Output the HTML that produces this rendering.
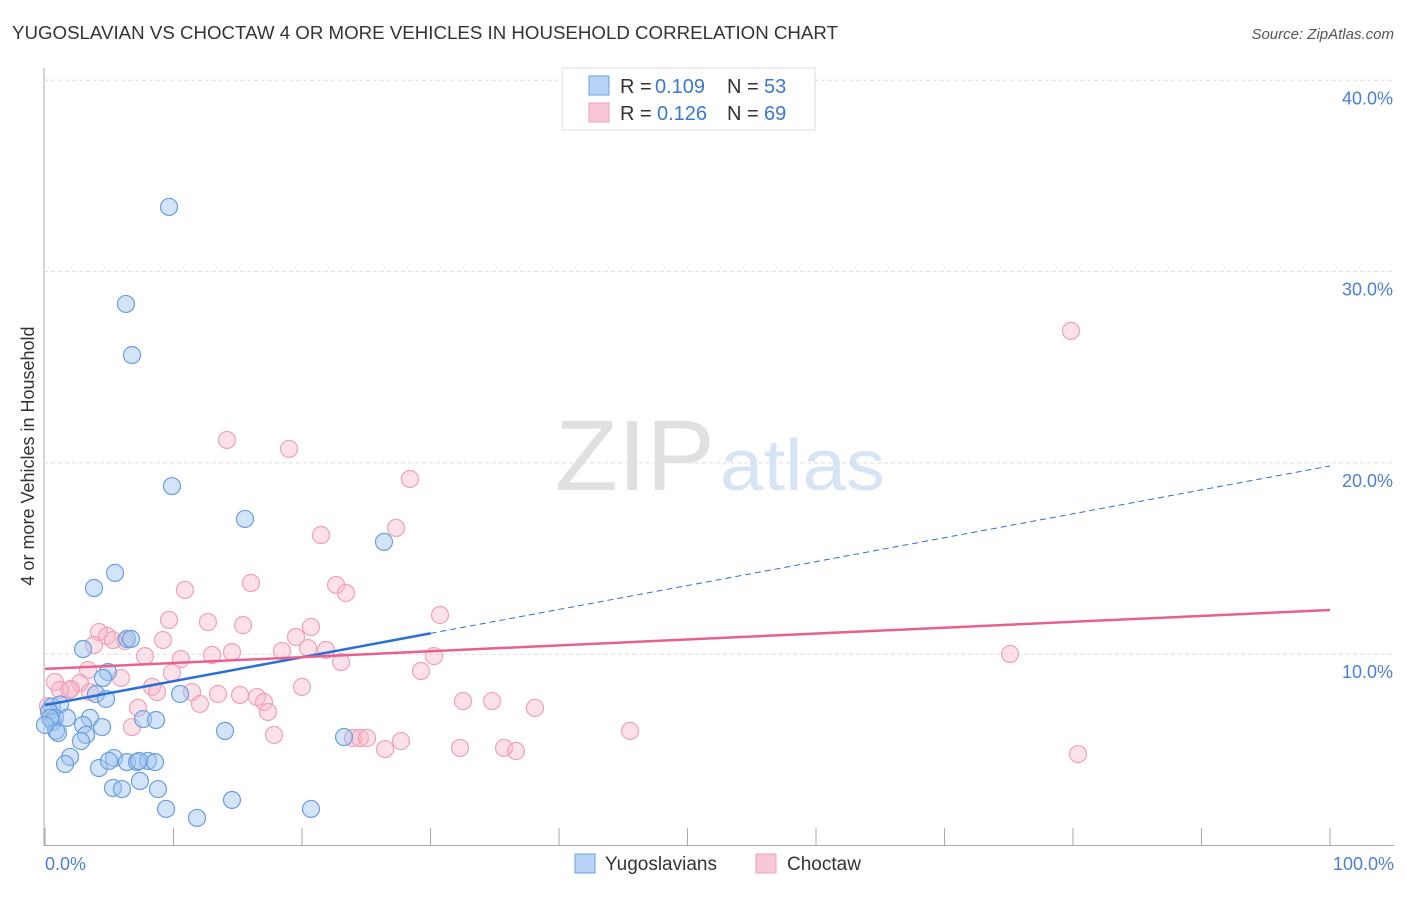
<!DOCTYPE html>
<html><head><meta charset="utf-8"><style>
body{margin:0;background:#fff;font-family:"Liberation Sans",sans-serif;}
svg text{font-family:"Liberation Sans",sans-serif;}
</style></head><body>
<svg id="c" width="1406" height="892">
<text x="12" y="39" font-size="18" fill="#333" textLength="826" lengthAdjust="spacingAndGlyphs">YUGOSLAVIAN VS CHOCTAW 4 OR MORE VEHICLES IN HOUSEHOLD CORRELATION CHART</text>
<text x="1394" y="39" font-size="15" fill="#555" font-style="italic" text-anchor="end">Source: ZipAtlas.com</text>
<g>
<text x="555" y="490" font-size="100" fill="#e0e0e0" font-family="Liberation Serif" textLength="160" lengthAdjust="spacingAndGlyphs">ZIP</text>
<text x="720" y="490" font-size="72" fill="#d6e4f5" textLength="165" lengthAdjust="spacingAndGlyphs">atlas</text>
</g>
<g id="grid"></g>
<g id="pts"></g>
<g id="lines"></g>
<text transform="translate(34,456) rotate(-90)" font-size="18" fill="#333" text-anchor="middle">4 or more Vehicles in Household</text>
<text x="45" y="870" font-size="18" fill="#4a7fd4">0.0%</text>
<text x="1394" y="870" font-size="18" fill="#4a7fd4" text-anchor="end">100.0%</text>
<g>
<rect x="562" y="68" width="253" height="62" fill="#fff" stroke="#ddd"/>
<rect x="589" y="76" width="20" height="19" fill="#b8d3f5" stroke="#6a9fe0"/>
<text x="620" y="93" font-size="20" fill="#333">R =</text>
<text x="655" y="93" font-size="20" fill="#3a78d0">0.109</text>
<text x="727" y="93" font-size="20" fill="#333">N =</text>
<text x="764" y="93" font-size="20" fill="#3a78d0">53</text>
<rect x="589" y="103" width="20" height="19" fill="#f9c8d6" stroke="#f0a0b8"/>
<text x="620" y="120" font-size="20" fill="#333">R =</text>
<text x="657" y="120" font-size="20" fill="#3a78d0">0.126</text>
<text x="727" y="120" font-size="20" fill="#333">N =</text>
<text x="764" y="120" font-size="20" fill="#3a78d0">69</text>
</g>
<g>
<rect x="575" y="854" width="20" height="19" fill="#b8d3f5" stroke="#6a9fe0"/>
<text x="605" y="870" font-size="19" fill="#333">Yugoslavians</text>
<rect x="756" y="854" width="20" height="19" fill="#f9c8d6" stroke="#f0a0b8"/>
<text x="787" y="870" font-size="19" fill="#333">Choctaw</text>
</g>
</svg>
<script>
const yTicks=[10,20,30,40];
const yTickLabels=["10.0%","20.0%","30.0%","40.0%"];
const blueX=[9.65,6.30,6.77,9.88,15.56,26.38,5.45,3.81,2.96,6.38,6.69,4.90,4.51,3.97,4.75,10.51,0.54,1.17,0.31,0.78,0.62,1.71,3.50,2.96,4.44,0.86,1.01,3.19,2.80,7.63,8.64,14.01,23.27,5.37,1.95,1.56,4.20,4.98,6.38,7.16,8.02,8.56,7.32,7.39,5.29,5.99,8.79,14.55,9.42,20.70,11.83,0.39,0.0];
const blueY=[33.38,28.31,25.64,18.79,17.07,15.87,14.25,13.46,10.27,10.80,10.80,9.07,8.76,7.92,7.66,7.92,7.26,7.37,7.00,6.67,6.46,6.67,6.67,6.30,6.19,5.99,5.88,5.78,5.46,6.61,6.56,5.99,5.67,4.57,4.63,4.26,4.05,4.42,4.36,4.36,4.42,4.36,4.42,3.37,3.01,2.95,2.95,2.38,1.91,1.91,1.44,6.67,6.30];
const pinkX=[79.84,14.16,18.99,28.40,21.48,27.32,16.03,22.65,23.42,10.89,30.74,9.65,12.68,15.41,20.70,19.53,4.20,4.82,9.18,6.23,3.81,20.47,21.87,7.78,10.58,13.00,14.55,18.44,30.27,23.04,75.10,3.35,9.88,29.26,5.91,0.78,2.72,20.00,1.87,3.50,8.33,8.72,11.44,13.46,15.18,16.50,17.04,12.06,0.23,17.35,7.24,32.53,34.79,38.13,6.77,17.82,23.97,24.51,25.06,27.70,26.46,32.30,35.72,36.65,45.53,80.39,2.02,1.17,5.29];
const pinkY=[26.90,21.20,20.73,19.16,16.23,16.60,13.72,13.62,13.20,13.36,12.05,11.79,11.68,11.52,11.42,10.90,11.16,10.95,10.74,10.69,10.48,10.32,10.22,9.90,9.75,9.96,10.11,10.17,9.90,9.59,10.01,9.17,9.02,9.12,8.76,8.55,8.50,8.29,8.13,8.02,8.29,8.02,8.02,7.92,7.87,7.76,7.50,7.40,7.29,6.98,7.19,7.55,7.55,7.19,6.19,5.78,5.62,5.62,5.62,5.46,5.04,5.10,5.10,4.94,5.99,4.78,8.18,8.13,10.74];
const blueTrend=[7.34,19.84];
const pinkTrend=[9.23,12.31];
const blueSolidEnd=30;
const X0=45,X1=1330,Y0=845.5,PER=19.13;
function sx(v){return X0+(X1-X0)*v/100;}
function sy(v){return Y0-PER*v;}
const NS="http://www.w3.org/2000/svg";
function mk(tag,attrs,parent){const e=document.createElementNS(NS,tag);for(const k in attrs)e.setAttribute(k,attrs[k]);parent.appendChild(e);return e;}
const grid=document.getElementById('grid');
let ax=mk('line',{x1:44,y1:68,x2:44,y2:846,stroke:'#aaa'},grid);


let bx=mk('line',{x1:44,y1:845.5,x2:1394,y2:845.5,stroke:'#aaa'},grid);


for(let k=0;k<=10;k++){const t=mk('line',{x1:sx(k*10),y1:828,x2:sx(k*10),y2:845,stroke:'#aaa'},grid);

}
yTicks.forEach((v,i)=>{const g=mk('line',{x1:44,x2:1394,y1:sy(v),y2:sy(v),stroke:'#ddd','stroke-dasharray':'4,3'},grid);


const t=mk('text',{x:1393,y:sy(v)+24,'font-size':18,fill:'#4a7fd4','text-anchor':'end'},grid);t.textContent=yTickLabels[i];

});
const pts=document.getElementById('pts');
pinkX.forEach((x,i)=>{const c=mk('circle',{cx:sx(x),cy:sy(pinkY[i]),r:8.5,fill:'rgba(248,180,200,0.4)',stroke:'#f0a0b8','stroke-width':1.2},pts);

});
blueX.forEach((x,i)=>{const c=mk('circle',{cx:sx(x),cy:sy(blueY[i]),r:8.5,fill:'rgba(160,196,240,0.45)',stroke:'#6a9fe0','stroke-width':1.2},pts);

});
const lines=document.getElementById('lines');
const bAt=x=>blueTrend[0]+(blueTrend[1]-blueTrend[0])*x/100;
let l1=mk('line',{x1:sx(0),y1:sy(bAt(0)),x2:sx(blueSolidEnd),y2:sy(bAt(blueSolidEnd)),stroke:'#2a6fd6','stroke-width':2.5},lines);


let l2=mk('line',{x1:sx(blueSolidEnd),y1:sy(bAt(blueSolidEnd)),x2:sx(100),y2:sy(bAt(100)),stroke:'#2a6fd6','stroke-width':1,'stroke-dasharray':'6,4'},lines);


let l3=mk('line',{x1:sx(0),y1:sy(pinkTrend[0]),x2:sx(100),y2:sy(pinkTrend[1]),stroke:'#e86090','stroke-width':2.5},lines);


</script>
</body></html>
